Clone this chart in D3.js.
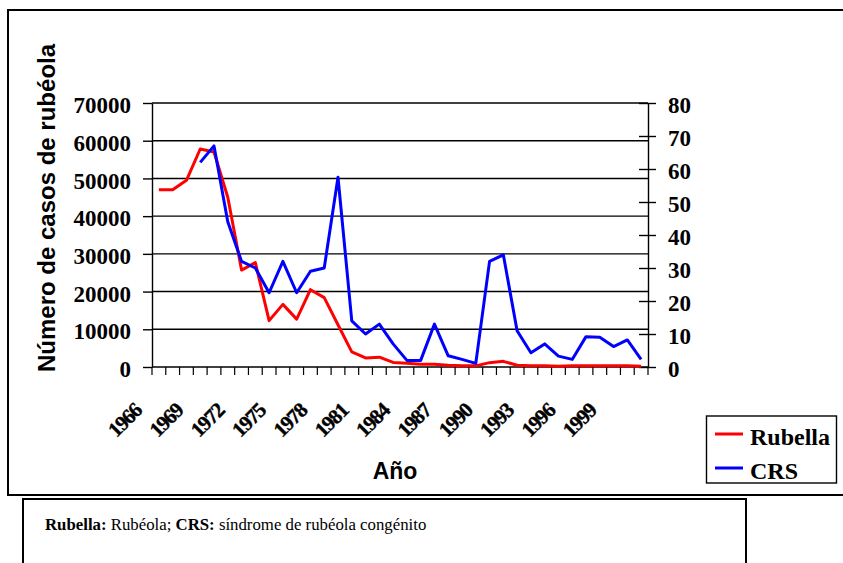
<!DOCTYPE html>
<html>
<head>
<meta charset="utf-8">
<script src="https://cdn.jsdelivr.net/npm/d3@7"></script>
<style>
  body { margin: 0; background: #fff; }
  svg text { fill: #000; }
</style>
</head>
<body>
<script>
// Data
const years = d3.range(1966, 2002);
const yearLabels = [1966, 1969, 1972, 1975, 1978, 1981, 1984, 1987, 1990, 1993, 1996, 1999];
const rubella = [47000, 47000, 49500, 57800, 57000, 45000, 25700, 27700, 12300, 16600,
  12700, 20500, 18400, 11200, 4000, 2400, 2600, 1200, 1000, 700,
  700, 450, 350, 300, 1150, 1500, 450, 350, 350, 200,
  300, 300, 300, 300, 300, 200];
const crs = [null, null, null, 62, 67, 44, 32, 30, 22.5, 32,
  22.5, 29, 30, 57.5, 14, 10, 13, 7, 2, 2,
  13, 3.4, 2.3, 1.1, 32, 34, 11, 4.3, 7, 3.3,
  2.3, 9.2, 9, 6.2, 8.2, 2.3];
const leftTicks = d3.range(0, 70001, 10000);
const rightTicks = d3.range(0, 81, 10);

const width = 843;
const height = 563;
const plotLeft = 152, plotRight = 648, plotTop = 103, plotBottom = 367;

const svg = d3.select('body')
  .append('svg')
  .attr('width', width)
  .attr('height', height);

// Frames
svg.append('rect')
  .attr('x', 8).attr('y', 10)
  .attr('width', 850).attr('height', 485)
  .attr('fill', 'none').attr('stroke', '#000').attr('stroke-width', 2);

svg.append('rect')
  .attr('x', 23).attr('y', 499)
  .attr('width', 723).attr('height', 90)
  .attr('fill', 'none').attr('stroke', '#000').attr('stroke-width', 2);

// Scales
const x = d3.scaleBand().domain(years).range([plotLeft, plotRight]);
const yL = d3.scaleLinear().domain([0, 70000]).range([plotBottom, plotTop]);
const yR = d3.scaleLinear().domain([0, 80]).range([plotBottom, plotTop]);

// Gridlines
svg.append('g')
  .selectAll('line')
  .data(leftTicks)
  .enter()
  .append('line')
  .attr('x1', plotLeft).attr('x2', plotRight)
  .attr('y1', d => yL(d)).attr('y2', d => yL(d))
  .attr('stroke', '#000').attr('stroke-width', 1.4);

// Left axis
const axL = svg.append('g')
  .attr('transform', 'translate(' + plotLeft + ',0)')
  .attr('font-family', 'Liberation Serif')
  .call(d3.axisLeft(yL).tickValues(leftTicks).tickFormat(d3.format('d')).tickSize(9).tickSizeOuter(0).tickPadding(12));
axL.select('.domain').attr('stroke-width', 1.4);
axL.selectAll('.tick line').attr('stroke-width', 1.4);
axL.selectAll('text')
  .attr('font-family', 'Liberation Serif').attr('font-weight', 'bold').attr('font-size', 23)
  .attr('dy', '0.42em');

// Right axis
const axR = svg.append('g')
  .attr('transform', 'translate(' + plotRight + ',0)')
  .call(d3.axisRight(yR).tickValues(rightTicks).tickSize(8).tickSizeOuter(0).tickPadding(12));
axR.select('.domain').attr('stroke-width', 1.4);
axR.selectAll('.tick line').attr('x1', -9).attr('stroke-width', 1.4);
axR.selectAll('text')
  .attr('font-family', 'Liberation Serif').attr('font-weight', 'bold').attr('font-size', 23)
  .attr('dy', '0.42em');

// X axis ticks at category boundaries
const bounds = years.map(d => x(d)).concat([x.range()[1]]);
svg.append('g')
  .selectAll('line')
  .data(bounds)
  .enter()
  .append('line')
  .attr('x1', d => d).attr('x2', d => d)
  .attr('y1', plotBottom).attr('y2', plotBottom + 8)
  .attr('stroke', '#000').attr('stroke-width', 1.2);

svg.append('g')
  .selectAll('text')
  .data(yearLabels)
  .enter()
  .append('text')
  .attr('transform', d => 'translate(' + (x(d) + x.bandwidth() / 2 - 16) + ',412) rotate(-45)')
  .attr('text-anchor', 'end')
  .attr('font-family', 'Liberation Serif').attr('font-weight', 'bold').attr('font-size', 21)
  .attr('stroke', '#000').attr('stroke-width', 0.4)
  .attr('letter-spacing', -1.2)
  .text(d => d);

// Lines
const lineR = d3.line()
  .x((d, i) => x(years[i]) + x.bandwidth() / 2)
  .y(d => yL(d));

const lineC = d3.line()
  .defined(d => d !== null)
  .x((d, i) => x(years[i]) + x.bandwidth() / 2)
  .y(d => yR(d));

svg.append('path')
  .datum(rubella)
  .attr('d', lineR)
  .attr('fill', 'none').attr('stroke', '#ff0000').attr('stroke-width', 3)
  .attr('stroke-linejoin', 'round');

svg.append('path')
  .datum(crs)
  .attr('d', lineC)
  .attr('fill', 'none').attr('stroke', '#0000ff').attr('stroke-width', 3)
  .attr('stroke-linejoin', 'round');

// Axis titles
svg.append('text')
  .attr('transform', 'translate(55,208) rotate(-90)')
  .attr('text-anchor', 'middle')
  .attr('font-family', 'Liberation Sans').attr('font-weight', 'bold').attr('font-size', 24)
  .text('Número de casos de rubéola');

svg.append('text')
  .attr('x', 395).attr('y', 479)
  .attr('text-anchor', 'middle')
  .attr('font-family', 'Liberation Sans').attr('font-weight', 'bold').attr('font-size', 23)
  .text('Año');

// Legend
const legend = svg.append('g');
legend.append('rect')
  .attr('x', 706.5).attr('y', 416)
  .attr('width', 130).attr('height', 67)
  .attr('fill', '#fff').attr('stroke', '#000').attr('stroke-width', 1.4);

const legendItems = [
  { name: 'Rubella', color: '#ff0000' },
  { name: 'CRS', color: '#0000ff' }
];
legend.selectAll('line')
  .data(legendItems)
  .enter()
  .append('line')
  .attr('x1', 715).attr('x2', 743)
  .attr('y1', (d, i) => 434 + i * 34).attr('y2', (d, i) => 434 + i * 34)
  .attr('stroke', d => d.color).attr('stroke-width', 3);

legend.selectAll('text')
  .data(legendItems)
  .enter()
  .append('text')
  .attr('x', 750)
  .attr('y', (d, i) => 445 + i * 34)
  .attr('font-family', 'Liberation Serif').attr('font-weight', 'bold').attr('font-size', 24)
  .text(d => d.name);

// Footnote
const note = svg.append('text')
  .attr('x', 45).attr('y', 530)
  .attr('font-family', 'Liberation Serif').attr('font-size', 16.8);
note.append('tspan').attr('font-weight', 'bold').text('Rubella:');
note.append('tspan').text(' Rubéola; ');
note.append('tspan').attr('font-weight', 'bold').text('CRS:');
note.append('tspan').text(' síndrome de rubéola congénito');
</script>
</body>
</html>
